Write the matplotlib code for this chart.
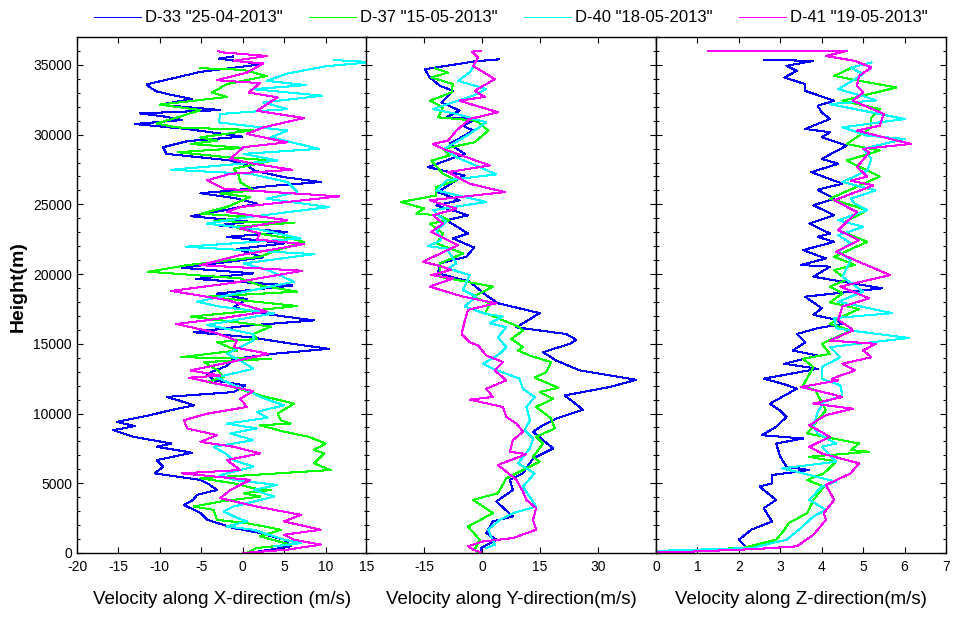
import matplotlib
matplotlib.use("Agg")
import matplotlib.pyplot as plt
from matplotlib.ticker import MultipleLocator
import numpy as np

plt.rcParams['font.family'] = ['Liberation Sans', 'DejaVu Sans']

series_labels = ['D-33 "25-04-2013"', 'D-37 "15-05-2013"', 'D-40 "18-05-2013"', 'D-41 "19-05-2013"']
series_colors = ['#0000ff', '#00ff00', '#00ffff', '#ff00ff']

# ---------------- X-direction velocity (m/s) vs height (m) ----------------
d33_x_h = [35600,35450,35300,35050,34500,33600,33300,33100,32900,32550,32150,31760,31520,31300,31050,30760,30400,30100,29860,29530,29100,28620,28150,27800,27400,26950,26600,26300,26000,25800,25450,25050,24600,24150,23750,23500,23000,22670,22200,21800,21200,20450,20050,19650,19180,18600,18200,17630,17200,16680,16300,15830,15470,15000,14640,14300,13920,13400,12850,12380,12020,11540,11190,10900,10590,10200,9880,9400,9100,8810,8330,7850,7620,7190,6660,6190,5710,5240,4900,4520,4165,3800,3450,2860,2380,1790,1430,950,480,120,0]
d33_x_v = [-1.2,-2.9,-1.0,2.3,-5.1,-11.6,-11.0,-10.4,-9.0,-6.1,-10.0,-2.7,-12.4,-9.5,-7.3,-13.0,-6.7,-3.0,-0.1,-6.7,-9.6,-9.2,-1.5,0.5,1.5,5.0,9.4,3.0,-1.1,-5.1,-1.0,1.7,-2.0,-6.3,0.9,-3.1,5.4,-1.9,5.0,-0.7,2.5,-7.3,1.3,-5.7,6.0,-3.1,0.5,-1.1,2.0,8.6,0.5,-5.9,0.9,6.0,10.4,4.0,-1.1,-2.0,-4.3,-3.5,0.3,-1.1,-9.2,-7.5,-5.9,-9.0,-11.2,-15.2,-13.0,-15.6,-13.2,-8.6,-10.4,-6.1,-10.4,-9.6,-10.6,-5.1,-4.0,-3.1,-5.5,-6.0,-7.1,-5.1,-4.3,-1.1,2.1,5.0,5.8,2.1,0.1]

d37_x_h = [34760,34650,34200,33620,33020,32700,32150,31760,31300,30800,30520,30330,29800,29570,29330,29050,28740,28380,28140,27550,27100,26600,26000,25770,25530,24810,24330,24100,23800,23680,23390,22900,22550,22310,21720,21240,20640,20170,19690,19200,18740,18380,17710,17300,16950,16240,15700,15350,15120,14520,14040,13920,13690,13100,12610,12260,11900,11300,10710,10000,9520,9280,9160,8700,8330,7850,7380,7140,6430,5950,5360,5000,4640,4520,4280,4050,3690,3330,3090,2380,2140,1670,1190,600,360,120,0]
d37_x_v = [-5.1,0.0,2.9,-1.9,-3.7,-1.9,-10.0,-5.1,-7.5,-10.4,-8.0,1.3,-5.1,-3.1,-6.3,0.1,-7.8,-1.9,3.6,-1.1,-0.5,-0.3,1.3,-2.7,0.9,-1.9,-5.1,0.9,-3.5,6.2,-1.1,2.0,5.8,7.4,4.2,2.1,-6.7,-11.4,-0.3,2.0,6.6,-4.3,6.6,0.0,-6.3,3.4,1.3,1.7,-3.1,-0.7,-7.5,3.4,-4.7,-3.0,-2.3,-4.3,-1.1,2.1,6.2,4.2,4.6,5.8,2.1,5.0,8.0,10.0,8.6,9.8,8.6,10.6,-5.1,-1.1,1.3,3.4,0.1,2.1,-2.7,-5.9,-3.5,-3.1,0.5,4.6,2.1,5.8,1.7,0.9,0.5]

d40_x_h = [35350,35200,34900,34380,33860,33550,33260,32790,32310,31830,31480,30880,30290,29810,28980,28620,28140,27480,27190,26600,25880,25400,24810,24100,23620,23200,22550,21960,21430,20760,20300,19450,18700,18020,17660,17190,16350,15700,15230,14280,13700,13210,12610,12140,11660,11100,10590,10120,9700,9280,8930,8570,8090,7620,7100,6660,6190,5590,5240,4880,4520,4050,3330,2980,2600,2260,1900,1670,950,710,480]
d40_x_v = [11.0,15.5,10.0,5.4,2.9,7.6,1.3,9.6,2.5,5.4,-2.7,-2.9,5.4,3.4,9.2,0.1,4.2,-8.6,0.9,5.4,6.6,2.9,10.4,0.9,-4.3,2.0,7.0,-6.9,8.6,0.1,3.0,6.2,0.0,-5.5,-2.7,3.8,-4.3,1.3,1.3,-1.9,0.0,1.3,-3.1,-1.5,0.5,2.5,5.0,1.7,3.0,-1.9,1.7,-1.5,1.3,-3.5,-2.0,-1.1,1.3,-2.7,-1.1,4.2,1.3,3.8,-1.1,-2.3,-1.0,0.5,-1.9,1.3,5.0,7.0,3.8]

d41_x_h = [36000,35900,35640,35290,35100,34450,33900,33690,33020,32670,31710,31190,30520,30050,29450,29100,28260,27910,27480,27190,26720,26120,25570,24810,24450,23860,23270,22910,22480,22150,21360,20640,20240,19380,18790,18140,17310,16720,16420,15830,15230,14760,14280,13690,13090,12730,12570,12140,11610,11070,10470,9990,9520,8930,8450,7970,7620,7140,6660,5950,5710,5240,4520,3930,3330,2740,2260,1670,1310,950,600,240,0]
d41_x_v = [-3.0,-2.5,2.9,-1.1,2.5,0.5,-3.1,2.1,0.7,4.2,1.7,7.4,2.5,0.5,5.4,0.1,-1.5,1.3,6.0,-1.5,-4.3,-2.3,11.6,-0.3,-1.9,5.4,-0.3,2.1,1.7,7.4,-0.3,-5.1,7.2,-1.1,-8.6,-1.9,2.9,-3.9,-8.0,-3.5,-0.7,-1.1,3.1,-1.5,-6.3,-2.7,-6.5,-3.1,1.3,-0.3,0.5,-4.3,-7.1,-6.7,-3.1,-5.1,-1.1,2.1,-1.9,-0.3,-7.3,0.9,-1.5,-2.7,1.7,7.0,5.0,9.4,5.0,6.2,9.4,5.4,0.1]

# ---------------- Y-direction velocity (m/s) vs height (m) ----------------
d33_y_h = [35400,35250,34690,34100,33500,33140,32310,31720,31240,31120,30640,30290,29930,29340,28620,27670,27070,26500,25880,25290,24930,24220,23860,22910,22550,21900,21240,20760,20050,19460,18600,17910,17200,16180,15700,15280,15000,14400,13800,13090,12420,11900,11300,10280,9640,9160,8690,7500,6780,5710,5240,4520,3690,2620,2260,1430,950,360,0]
d33_y_v = [4.4,-1.9,-14.8,-13.5,-10.9,-7.5,-10.5,-5.8,-9.2,-1.5,-4.9,-2.3,-4.5,-8.4,-4.5,-14.0,-4.5,-8.0,-11.4,-5.8,-11.8,-3.6,-9.2,-3.6,-7.5,-2.0,-4.1,-10.9,-11.4,-3.2,0.5,4.1,14.9,8.9,21.8,24.4,22.7,15.8,19.2,25.3,39.9,33.0,21.4,26.1,19.2,15.8,13.2,18.4,13.2,10.6,7.2,8.0,3.7,8.0,2.8,1.1,3.7,-0.2,-0.2]

d37_y_h = [34760,34450,34100,33620,33020,32430,31950,31240,31000,30290,29450,28980,28500,28140,27190,26720,26240,25640,25170,24700,24340,24220,23860,23620,22910,22200,21480,20760,19810,19100,18380,17910,17200,16250,15950,15350,14760,14520,14160,13690,12970,12570,11850,11540,11070,10470,9640,8930,8330,7850,6900,6550,5360,4280,3810,2860,1900,950,240,0]
d37_y_v = [-12.2,-8.8,-13.1,-7.5,-7.9,-13.5,-10.1,-11.4,-1.5,1.6,-1.9,-10.1,-8.4,-13.1,-10.1,-6.6,-11.8,-11.8,-20.9,-15.0,-17.0,-11.4,-8.4,-13.5,-10.1,-11.8,-4.9,-10.9,-10.9,2.8,-2.3,2.0,0.9,9.3,10.6,7.6,10.6,9.3,12.3,17.9,16.6,13.6,19.7,14.9,18.4,14.0,17.9,18.8,14.0,15.8,13.2,14.9,6.3,4.1,-2.3,2.8,-3.6,-0.6,-1.9,-1.0]

d40_y_h = [35290,34500,33860,33260,32790,31830,31480,30880,30050,28980,28380,27150,26720,26000,25170,24580,23740,23150,22430,22000,21840,20760,20410,19930,18860,18380,17670,17140,16960,16480,16180,15470,14760,14280,13570,13210,12500,11780,11190,10470,9520,8810,8210,7500,6430,5710,4760,3330,2860,2380,1670,600,360]
d40_y_v = [-1.5,-3.0,-6.2,1.1,-2.3,-12.7,-6.6,1.1,-3.2,-9.7,-6.6,3.7,-9.2,-11.8,1.1,-12.7,-9.2,-11.8,-10.5,-14.0,-9.2,-6.6,-8.8,-3.2,-4.9,-1.5,-4.5,1.1,5.4,2.0,6.3,4.1,6.3,4.6,0.3,2.8,9.7,10.6,13.6,11.5,12.4,11.0,13.2,12.4,9.3,13.6,10.6,14.0,8.0,4.6,1.6,3.3,1.1]

d41_y_h = [36000,35950,35520,34930,33980,33140,32710,32430,31600,31120,30290,29570,29330,28980,27790,27310,26480,25880,25290,24690,24220,23620,23030,22670,22070,20890,20580,20300,19930,19690,19100,18380,17910,17440,16600,15700,15110,14880,14160,13690,13090,12380,11780,11190,11000,10470,9760,9280,8690,8090,7260,7090,6310,5830,5240,4400,3810,3210,2380,1670,1070,830,480,240,50]
d41_y_v = [-0.2,-2.5,-1.0,-2.3,3.3,-1.9,0.7,-5.8,4.1,-3.2,-6.6,-8.8,-12.7,-10.1,2.0,-8.8,-3.2,5.9,-13.5,-6.6,-12.7,-10.1,-13.1,-10.5,-6.2,-15.3,-10.9,-8.0,-13.1,-7.5,-13.5,-4.9,3.7,-3.6,-4.5,-5.3,-3.2,-1.0,1.1,5.4,3.3,6.3,1.1,2.8,-3.2,5.4,6.3,8.9,10.6,8.0,7.2,11.5,4.1,6.3,8.9,10.6,11.5,14.0,13.2,14.0,8.0,0.3,-3.6,-2.3,-0.2]

# ---------------- Z-direction velocity (m/s) vs height (m) ----------------
d33_z_h = [35360,35290,34930,34570,34100,33620,33140,32430,32070,31600,31120,30410,30170,29810,29210,28260,27910,27310,26480,26050,25410,24930,24220,23620,22910,22670,22310,21720,21120,20650,20530,19810,18980,18380,17550,17080,16720,16420,16120,15700,15100,14520,14160,13570,13210,12500,12100,11780,10710,10200,9760,9040,8450,8210,7850,6900,6190,5950,5590,5000,4760,3810,3210,2260,1670,950,360,190,120]
d33_z_v = [2.6,3.8,3.15,3.4,3.1,3.6,3.6,4.3,3.9,4.0,4.2,3.6,4.2,4.0,4.6,4.0,4.4,3.75,4.5,3.9,4.3,3.8,4.3,3.7,4.2,3.9,4.3,3.55,4.1,3.5,4.2,3.8,5.45,3.6,4.0,3.8,4.35,4.5,3.9,3.4,3.6,3.3,3.9,3.1,3.9,2.6,3.1,3.4,2.75,3.0,3.15,2.9,2.55,3.55,2.9,3.0,3.15,3.7,2.8,2.8,2.5,2.9,2.6,2.8,2.3,2.0,2.2,1.0,0.0]

d37_z_h = [34760,34210,33980,33380,32430,31830,31240,30520,29330,28860,28140,27000,26200,25410,24580,23800,23150,22310,21240,20650,20290,19600,19100,18620,17970,17490,16960,16420,15950,15000,14280,13920,13330,12020,11660,10230,9520,8570,7850,7380,7260,6900,6550,5710,5240,4760,3810,2860,2140,1670,950,360,240,120]
d37_z_v = [4.7,4.3,4.7,5.8,4.5,5.4,5.2,5.2,4.6,5.4,4.6,5.4,4.8,4.2,5.1,4.6,4.4,5.1,4.3,4.8,4.3,4.6,4.2,4.5,4.2,4.9,4.5,4.2,4.7,4.0,4.2,3.55,3.8,3.55,3.85,4.1,3.9,3.65,4.9,4.7,5.15,3.7,4.35,4.05,3.65,4.05,3.8,3.65,3.2,3.1,2.9,2.1,1.0,0.0]

d40_z_h = [35170,34800,34330,33260,32670,32450,32190,31120,30520,29930,29690,28980,28260,27430,26600,26000,25410,25050,24580,23860,23390,22790,22200,21600,21000,19810,18740,18020,17200,16840,16120,15950,15420,14760,14040,13330,12500,12020,11300,10830,10110,9040,8570,7850,7620,6550,6070,5120,4760,3810,3090,2620,1670,950,360,150]
d40_z_v = [5.2,4.7,5.0,4.4,5.1,5.3,4.2,6.0,4.5,5.1,6.0,5.0,5.2,5.1,4.5,5.3,4.7,4.8,5.1,4.4,5.0,4.4,4.7,4.4,4.7,4.5,5.0,4.4,5.7,4.3,4.35,4.7,6.1,4.2,4.45,4.0,4.0,4.45,4.5,4.05,3.9,3.8,3.9,4.35,4.0,4.35,3.05,4.35,4.0,3.7,4.1,3.8,3.45,3.15,2.3,0.0]

d41_z_h = [36000,36000,35640,35290,34810,34200,33500,33020,32430,31480,30640,30290,29330,28980,28740,27670,27000,26700,26360,25290,24450,23150,22430,21600,21000,19930,19100,18260,17670,16720,16120,15950,15230,15000,14520,14040,13570,13090,12500,12380,11900,11420,11190,10710,10350,9880,9160,8330,7620,7140,6430,5710,4880,3810,2860,2380,1310,480,290,70,50]
d41_z_v = [1.25,4.6,4.1,4.8,5.2,4.9,4.85,5.0,4.75,5.5,5.4,4.85,6.15,5.0,5.15,4.85,5.1,4.7,5.25,4.3,4.85,4.4,4.9,4.35,4.8,5.65,4.45,5.15,4.5,4.4,4.7,4.75,4.2,5.3,5.0,5.2,4.5,4.8,4.25,4.4,3.5,4.2,4.5,3.8,4.75,4.1,3.7,4.2,3.7,4.0,4.9,4.7,4.1,4.3,4.05,4.1,3.8,3.4,2.45,0.6,0.0]

panel_data = [
    [(d33_x_v, d33_x_h), (d37_x_v, d37_x_h), (d40_x_v, d40_x_h), (d41_x_v, d41_x_h)],
    [(d33_y_v, d33_y_h), (d37_y_v, d37_y_h), (d40_y_v, d40_y_h), (d41_y_v, d41_y_h)],
    [(d33_z_v, d33_z_h), (d37_z_v, d37_z_h), (d40_z_v, d40_z_h), (d41_z_v, d41_z_h)],
]
x_limits = [(-20, 15), (-30, 45), (0, 7)]
x_ticks = [list(range(-20, 16, 5)), list(range(-30, 46, 15)), list(range(0, 8))]
x_ticklabels = [[str(t) for t in x_ticks[0]],
                ['', '-15', '0', '15', '30', ''],
                [str(t) for t in x_ticks[2]]]
x_titles = ['Velocity along X-direction (m/s)', 'Velocity along Y-direction(m/s)', 'Velocity along Z-direction(m/s)']
y_ticks = list(range(0, 35001, 5000))

W, H = 958, 628
fig = plt.figure(figsize=(W / 100, H / 100), dpi=100)
lefts = [77, 366, 656]
width = 290
bottom_px, top_px = 553, 37
axes = []
for i in range(3):
    ax = fig.add_axes([lefts[i] / W, (H - bottom_px) / H, width / W, (bottom_px - top_px) / H])
    axes.append(ax)
    for (v, h), c, lab in zip(panel_data[i], series_colors, series_labels):
        ax.plot(v, h, color=c, lw=0.75, antialiased=False, label=lab)
    ax.set_xlim(*x_limits[i])
    ax.set_ylim(0, 37000)
    ax.set_xticks(x_ticks[i])
    ax.set_xticklabels(x_ticklabels[i])
    ax.set_yticks(y_ticks)
    ax.yaxis.set_minor_locator(MultipleLocator(1000))
    ax.tick_params(axis='both', which='major', direction='in', length=4.3, width=0.8,
                   top=True, right=True, labelsize=10)
    ax.tick_params(axis='x', which='major', pad=5)
    ax.tick_params(axis='y', which='major', pad=3.6)
    ax.tick_params(axis='y', which='minor', direction='in', length=2.2, width=0.8, right=True, left=True)
    for s in ax.spines.values():
        s.set_linewidth(1.0)
    if i > 0:
        ax.tick_params(axis='y', labelleft=False)
    ax.set_xlabel(x_titles[i], fontsize=13.5)
    ax.xaxis.set_label_coords(0.5, -0.074)

fig.text(18 / W, 1 - 287 / H, 'Height(m)', rotation=90, fontsize=14, fontweight='bold',
         ha='center', va='center')

handles, labels = axes[0].get_legend_handles_labels()
fig.legend(handles, labels, loc='center', bbox_to_anchor=(511 / W, 1 - 18 / H), ncol=4,
           frameon=False, fontsize=12, handlelength=2.8, handletextpad=0.25, columnspacing=1.6,
           borderaxespad=0)

fig.savefig('out.png', dpi=100)
